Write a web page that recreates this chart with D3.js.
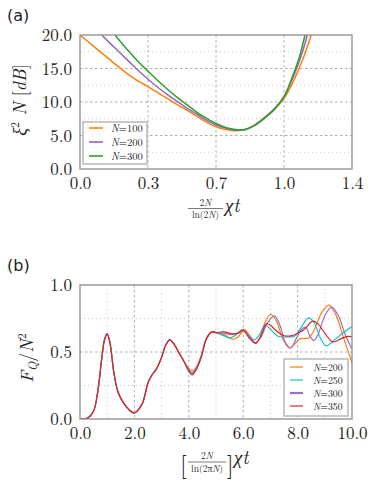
<!DOCTYPE html>
<html><head><meta charset="utf-8">
<script src="https://cdn.jsdelivr.net/npm/d3@7"></script>
<style>body{margin:0;background:#fff}</style>
</head><body>
<svg id="chart" width="373" height="492"></svg>
<script>
// ---------- Panel (a) data ----------
const aXTicks = [0, 0.35, 0.7, 1.05, 1.4];
const aXTickLabels = ["0.0", "0.3", "0.7", "1.0", "1.4"];
const aYTicks = [0, 5, 10, 15, 20];
const aYTickLabels = ["0.0", "5.0", "10.0", "15.0", "20.0"];
const aYMinor = [2.5, 7.5, 12.5, 17.5];
const aLabels = ["100", "200", "300"];
const aN100 = [[0,20],[0.05,18.8],[0.1,17.6],[0.15,16.4],[0.2,15.2],[0.25,14.1],[0.3,13.1],[0.35,12.3],[0.4,11.4],[0.45,10.5],[0.5,9.6],[0.55,8.8],[0.6,7.9],[0.65,7.0],[0.7,6.3],[0.75,5.9],[0.8,5.7],[0.85,5.9],[0.9,6.6],[0.95,7.6],[1.0,8.9],[1.05,10.5],[1.1,13.2],[1.15,16.6],[1.19,20]];
const aN200 = [[0.112,20],[0.15,18.9],[0.2,17.5],[0.25,16.1],[0.3,14.7],[0.35,13.4],[0.4,12.2],[0.45,11.1],[0.5,10.1],[0.55,9.1],[0.6,8.2],[0.65,7.3],[0.7,6.6],[0.75,6.1],[0.8,5.8],[0.85,5.9],[0.9,6.6],[0.95,7.7],[1.0,9.0],[1.05,10.8],[1.1,13.9],[1.14,17.0],[1.17,20]];
const aN300 = [[0.18,20],[0.2,19.3],[0.25,17.6],[0.3,16.0],[0.35,14.6],[0.4,13.2],[0.45,11.9],[0.5,10.7],[0.55,9.6],[0.6,8.5],[0.65,7.6],[0.7,6.8],[0.75,6.2],[0.8,5.9],[0.85,5.9],[0.9,6.5],[0.95,7.6],[1.0,8.9],[1.05,10.8],[1.1,14.3],[1.13,16.8],[1.158,20]];
const aColors = ["#ff7f0e", "#9467bd", "#2ca02c"];

// ---------- Panel (b) data ----------
const bXTicks = [0, 2, 4, 6, 8, 10];
const bXTickLabels = ["0.0", "2.0", "4.0", "6.0", "8.0", "10.0"];
const bXMinor = [1, 3, 5, 7, 9];
const bYTicks = [0, 0.5, 1.0];
const bYTickLabels = ["0.0", "0.5", "1.0"];
const bYMinor = [0.25, 0.75];
const bLabels = ["200", "250", "300", "350"];
const bShared = [[0,0],[0.3,0.01],[0.5,0.06],[0.65,0.2],[0.8,0.45],[0.9,0.59],[1.0,0.635],[1.1,0.57],[1.25,0.34],[1.4,0.2],[1.6,0.12],[1.8,0.07],[2.0,0.045],[2.15,0.07],[2.3,0.12],[2.4,0.19],[2.5,0.27],[2.65,0.33],[2.8,0.37],[3.0,0.46],[3.15,0.55],[3.3,0.59],[3.45,0.56],[3.65,0.49],[3.85,0.42]];
const bN200 = [[4.0,0.38],[4.12,0.36],[4.25,0.38],[4.45,0.47],[4.65,0.6],[4.85,0.65],[5.0,0.645],[5.3,0.63],[5.6,0.595],[5.8,0.61],[6.05,0.665],[6.25,0.62],[6.45,0.565],[6.6,0.6],[6.8,0.72],[7.0,0.78],[7.2,0.74],[7.45,0.6],[7.7,0.53],[7.9,0.56],[8.1,0.6],[8.4,0.605],[8.6,0.66],[8.9,0.8],[9.15,0.85],[9.4,0.78],[9.7,0.6],[10.0,0.42]];
const bN250 = [[4.0,0.37],[4.12,0.345],[4.25,0.37],[4.45,0.465],[4.65,0.6],[4.85,0.65],[5.0,0.645],[5.3,0.62],[5.5,0.605],[5.75,0.63],[5.95,0.665],[6.2,0.625],[6.4,0.59],[6.6,0.63],[6.8,0.70],[7.0,0.67],[7.25,0.62],[7.6,0.612],[7.9,0.62],[8.15,0.69],[8.4,0.755],[8.6,0.72],[8.85,0.6],[9.05,0.545],[9.3,0.58],[9.65,0.64],[10.0,0.69]];
const bN300 = [[4.0,0.365],[4.12,0.34],[4.25,0.365],[4.45,0.46],[4.65,0.6],[4.85,0.65],[5.0,0.645],[5.3,0.64],[5.6,0.63],[5.8,0.64],[6.0,0.66],[6.2,0.62],[6.45,0.57],[6.65,0.61],[6.9,0.72],[7.15,0.77],[7.35,0.7],[7.55,0.57],[7.75,0.53],[7.95,0.6],[8.15,0.67],[8.3,0.685],[8.45,0.62],[8.6,0.585],[8.75,0.63],[9.0,0.77],[9.25,0.835],[9.5,0.77],[9.75,0.63],[10.0,0.52]];
const bN350 = [[4.0,0.355],[4.12,0.33],[4.25,0.36],[4.45,0.455],[4.65,0.6],[4.85,0.65],[5.0,0.645],[5.3,0.65],[5.6,0.635],[5.85,0.645],[6.0,0.665],[6.2,0.61],[6.45,0.565],[6.65,0.62],[6.85,0.71],[7.0,0.70],[7.2,0.66],[7.45,0.625],[7.75,0.62],[8.0,0.64],[8.25,0.67],[8.55,0.73],[8.75,0.71],[9.0,0.64],[9.3,0.575],[9.6,0.6],[9.8,0.615],[10.0,0.615]];
const bColors = ["#ff7f0e", "#17becf", "#9b6fc6", "#d62728"];

const svg = d3.select("#chart");
const SERIF = "'Latin Modern Roman','Liberation Serif',serif";

function T(sel) { return sel.style("font-family", SERIF); }

function panel(opts) {
  const {x0, x1, y0, y1, xDom, yDom} = opts;
  const x = d3.scaleLinear().domain(xDom).range([x0, x1]);
  const y = d3.scaleLinear().domain(yDom).range([y1, y0]);
  const g = svg.append("g");
  const clipId = "clip" + opts.id;
  svg.append("clipPath").attr("id", clipId).append("rect")
    .attr("x", x0).attr("y", y0).attr("width", x1 - x0).attr("height", y1 - y0);
  const grid = g.append("g");
  opts.yMajor.forEach(v => grid.append("line").attr("x1", x0).attr("x2", x1).attr("y1", y(v)).attr("y2", y(v))
    .attr("stroke", "#9a9a9a").attr("stroke-width", 0.8).attr("stroke-dasharray", "2.5,2.5"));
  opts.yMinorV.forEach(v => grid.append("line").attr("x1", x0).attr("x2", x1).attr("y1", y(v)).attr("y2", y(v))
    .attr("stroke", "#b5b5b5").attr("stroke-width", 0.7).attr("stroke-dasharray", "1,3"));
  opts.xMajor.forEach(v => grid.append("line").attr("y1", y0).attr("y2", y1).attr("x1", x(v)).attr("x2", x(v))
    .attr("stroke", "#9a9a9a").attr("stroke-width", 0.8).attr("stroke-dasharray", "2.5,2.5"));
  opts.xMinorV.forEach(v => grid.append("line").attr("y1", y0).attr("y2", y1).attr("x1", x(v)).attr("x2", x(v))
    .attr("stroke", "#b5b5b5").attr("stroke-width", 0.7).attr("stroke-dasharray", "1,3"));
  const xAxis = d3.axisBottom(x).tickValues(opts.xTicks).tickFormat((d, i) => opts.xTickLabels[i]).tickSize(0).tickPadding(8);
  const yAxis = d3.axisLeft(y).tickValues(opts.yTicks).tickFormat((d, i) => opts.yTickLabels[i]).tickSize(0).tickPadding(8);
  const gx = g.append("g").attr("transform", `translate(0,${y1})`).call(xAxis);
  const gy = g.append("g").attr("transform", `translate(${x0},0)`).call(yAxis);
  [gx, gy].forEach(a => {
    a.select(".domain").remove();
    a.attr("font-family", null).attr("font-size", null);
    T(a.selectAll("text")).style("font-size", "17px").attr("fill", "#222");
  });
  gy.selectAll("text").attr("dy", "0.34em");
  gx.selectAll("text").attr("dy", "0.72em");
  const line = d3.line().x(d => x(d[0])).y(d => y(d[1])).curve(d3.curveCatmullRom.alpha(0.5));
  const lg = g.append("g").attr("clip-path", `url(#${clipId})`);
  opts.series.forEach((s, i) => {
    lg.append("path").datum(s).attr("d", line).attr("fill", "none")
      .attr("stroke", opts.colors[i]).attr("stroke-width", opts.lw).attr("stroke-linejoin", "round");
  });
  g.append("rect").attr("x", x0).attr("y", y0).attr("width", x1 - x0).attr("height", y1 - y0)
    .attr("fill", "none").attr("stroke", "#8c8c8c").attr("stroke-width", 1.3);
  const L = opts.legend;
  const lgd = g.append("g");
  lgd.append("rect").attr("x", L.x).attr("y", L.y).attr("width", L.w).attr("height", L.h)
    .attr("fill", "#fff").attr("stroke", "#b8b8b8").attr("stroke-width", 1.5);
  opts.labels.forEach((lab, i) => {
    const yy = L.rows[i];
    lgd.append("line").attr("x1", L.lx0).attr("x2", L.lx1).attr("y1", yy).attr("y2", yy)
      .attr("stroke", opts.colors[i]).attr("stroke-width", opts.legendLw[i]);
    const t = T(lgd.append("text")).attr("x", L.tx).attr("y", yy + 3.5).style("font-size", L.fs + "px").attr("fill", "#222");
    t.append("tspan").style("font-style", "italic").text("N");
    t.append("tspan").text("=" + lab);
  });
  return {x, y};
}

panel({id: "a", x0: 80, x1: 352, y0: 35, y1: 169, xDom: [0, 1.4], yDom: [0, 20],
  xTicks: aXTicks, xTickLabels: aXTickLabels, yTicks: aYTicks, yTickLabels: aYTickLabels,
  yMajor: aYTicks.slice(1, -1), yMinorV: aYMinor, xMajor: aXTicks.slice(1, -1), xMinorV: [],
  series: [aN100, aN200, aN300], colors: aColors, lw: 1.5, labels: aLabels, legendLw: [1.6, 1.6, 1.6],
  legend: {x: 83, y: 122, w: 64, h: 42, lx0: 89, lx1: 103, tx: 111, fs: 10.5, rows: [128, 142, 156]}});

panel({id: "b", x0: 80, x1: 352, y0: 285, y1: 419, xDom: [0, 10], yDom: [0, 1],
  xTicks: bXTicks, xTickLabels: bXTickLabels, yTicks: bYTicks, yTickLabels: bYTickLabels,
  yMajor: [0.5], yMinorV: bYMinor, xMajor: bXTicks.slice(1, -1), xMinorV: bXMinor,
  series: [bShared.concat(bN200), bShared.concat(bN250), bShared.concat(bN300), bShared.concat(bN350)],
  colors: bColors, lw: 1.2, labels: bLabels, legendLw: [1.2, 1.2, 2.2, 1.2],
  legend: {x: 284, y: 359, w: 64, h: 57, lx0: 290, lx1: 303, tx: 313, fs: 9.8, rows: [367, 380, 393, 406]}});

svg.append("text").attr("x", 7).attr("y", 21).style("font-family", "'DejaVu Sans',sans-serif").style("font-size", "16px").attr("fill", "#222").text("(a)");
svg.append("text").attr("x", 7).attr("y", 271).style("font-family", "'DejaVu Sans',sans-serif").style("font-size", "16px").attr("fill", "#222").text("(b)");

const ya = T(svg.append("text")).attr("transform", "translate(26,100) rotate(-90)").attr("text-anchor", "middle")
  .style("font-size", "18px").attr("fill", "#222");
ya.append("tspan").style("font-style", "italic").text("ξ");
ya.append("tspan").style("font-size", "12px").attr("dy", -7).text("2");
ya.append("tspan").attr("dy", 7).style("font-style", "italic").text(" N");
ya.append("tspan").text(" [");
ya.append("tspan").style("font-style", "italic").text("dB");
ya.append("tspan").text("]");

const yb = T(svg.append("text")).attr("transform", "translate(33,358) rotate(-90)").attr("text-anchor", "middle")
  .style("font-size", "18px").attr("fill", "#222");
yb.append("tspan").style("font-style", "italic").text("F");
yb.append("tspan").style("font-style", "italic").style("font-size", "12px").attr("dy", 4).text("Q");
yb.append("tspan").attr("dy", -4).text("/");
yb.append("tspan").style("font-style", "italic").text("N");
yb.append("tspan").style("font-size", "12px").attr("dy", -7).text("2");

function frac(cx, numY, barY, denY, num, den, x0, x1) {
  const n = T(svg.append("text")).attr("x", cx).attr("y", numY).attr("text-anchor", "middle").style("font-size", "9.5px").attr("fill", "#222");
  num.forEach(p => n.append("tspan").style("font-style", p[1] ? "italic" : "normal").text(p[0]));
  svg.append("line").attr("x1", x0).attr("x2", x1).attr("y1", barY).attr("y2", barY).attr("stroke", "#222").attr("stroke-width", 0.6);
  const d = T(svg.append("text")).attr("x", cx).attr("y", denY).attr("text-anchor", "middle").style("font-size", "9.5px").attr("fill", "#222");
  den.forEach(p => d.append("tspan").style("font-style", p[1] ? "italic" : "normal").text(p[0]));
}
frac(205.5, 205.5, 208.5, 218, [["2", 0], ["N", 1]], [["ln(2", 0], ["N", 1], [")", 0]], 188, 223);
T(svg.append("text")).attr("x", 225).attr("y", 212).style("font-size", "19px").style("font-style", "italic").attr("fill", "#222").text("χt");

T(svg.append("text")).attr("x", 180).attr("y", 473).style("font-size", "24px").attr("fill", "#222").text("[");
frac(207, 459, 462, 472, [["2", 0], ["N", 1]], [["ln(2π", 0], ["N", 1], [")", 0]], 188, 226);
T(svg.append("text")).attr("x", 227).attr("y", 473).style("font-size", "24px").attr("fill", "#222").text("]");
T(svg.append("text")).attr("x", 234).attr("y", 464).style("font-size", "19px").style("font-style", "italic").attr("fill", "#222").text("χt");
</script>
</body></html>
